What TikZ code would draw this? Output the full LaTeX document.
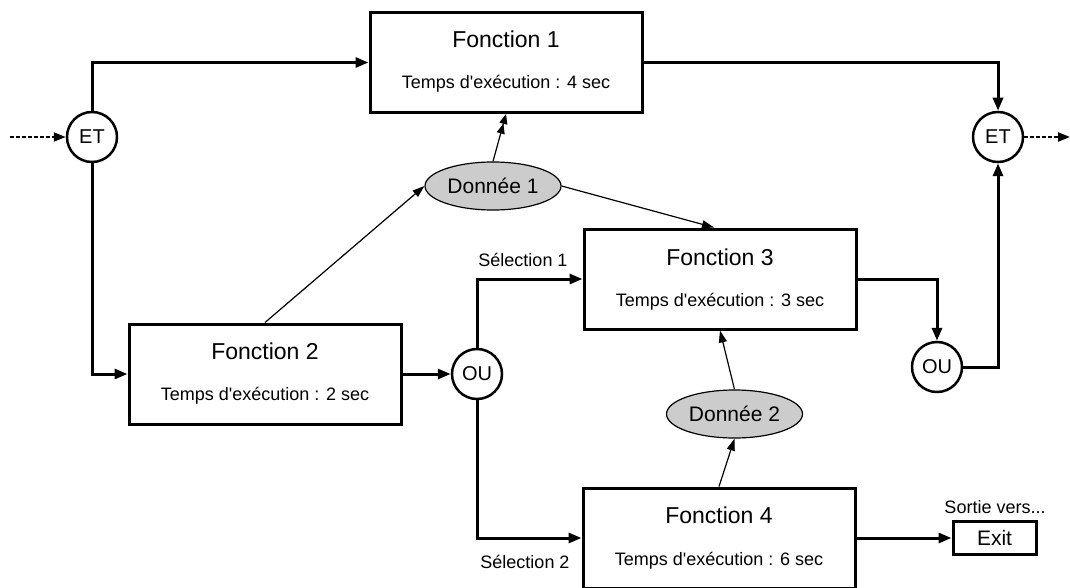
\documentclass[tikz,border=0pt]{standalone}
\usepackage{fontspec}
\setmainfont{Liberation Sans}
\usetikzlibrary{arrows.meta,shapes.geometric}
\begin{document}
\begin{tikzpicture}[x=1pt,y=-1pt,
  fbox/.style={draw,line width=3pt,minimum width=272pt,minimum height=100pt,inner sep=0pt,fill=white},
  ftitle/.style={font=\fontsize{23}{26}\selectfont,inner sep=0pt},
  ftime/.style={font=\fontsize{18}{20}\selectfont,inner sep=0pt},
  gate/.style={draw,circle,line width=2.5pt,minimum size=50pt,inner sep=0pt,fill=white,font=\fontsize{20}{22}\selectfont},
  data/.style={draw,ellipse,line width=1.2pt,fill=gray!40,minimum width=136pt,minimum height=48pt,inner sep=0pt,font=\fontsize{21}{24}\selectfont},
  flow/.style={line width=3pt,-{Triangle[length=13pt,width=10pt]}},
  link/.style={line width=1.2pt,-{Triangle[length=12pt,width=8pt]}},
  dbllink/.style={line width=1.2pt,-{Triangle[length=10pt,width=8pt]Triangle[length=10pt,width=8pt]}},
  dashflow/.style={line width=2pt,dash pattern=on 4pt off 2pt,-{Triangle[length=12pt,width=9pt]}},
  lbl/.style={font=\fontsize{18}{20}\selectfont,inner sep=0pt},
  exitbox/.style={draw,line width=3pt,minimum width=83pt,minimum height=33pt,inner sep=0pt,font=\fontsize{21}{24}\selectfont}
]
\useasboundingbox (0,0) rectangle (1070,588);

% function boxes
\node[fbox] (f1) at (506,62.5) {};
\node[ftitle] (f1a) at ([yshift=23pt]f1.center) {Fonction 1};
\node[ftime] (f1b) at ([yshift=-21pt]f1.center) {Temps d\textquotesingle exécution : 4 sec};

\node[fbox] (f2) at (265,374) {};
\node[ftitle] (f2a) at ([yshift=23pt]f2.center) {Fonction 2};
\node[ftime] (f2b) at ([yshift=-22pt]f2.center) {Temps d\textquotesingle exécution : 2 sec};

\node[fbox] (f3) at (720,279) {};
\node[ftitle] (f3a) at ([yshift=22pt]f3.center) {Fonction 3};
\node[ftime] (f3b) at ([yshift=-23pt]f3.center) {Temps d\textquotesingle exécution : 3 sec};

\node[fbox] (f4) at (719,538) {};
\node[ftitle] (f4a) at ([yshift=23pt]f4.center) {Fonction 4};
\node[ftime] (f4b) at ([yshift=-23pt]f4.center) {Temps d\textquotesingle exécution : 6 sec};

% gates
\node[gate] (et1) at (92,137) {ET};
\node[gate] (et2) at (998,137) {ET};
\node[gate] (ou1) at (477,374) {OU};
\node[gate] (ou2) at (937,367) {OU};

% data
\node[data] (d1) at (493,186) {Donnée 1};
\node[data] (d2) at (734.5,414) {Donnée 2};

% exit
\node[exitbox] (exit) at (994.5,538) {Exit};
\node[lbl] (sv) at (995,507) {Sortie vers...};

% labels
\node[lbl] (s1) at (523,260) {Sélection 1};
\node[lbl] (s2) at (525,562) {Sélection 2};

% free ends
\coordinate (inl) at (10,137);
\coordinate (outr) at (1070,137);

% connectors
\draw[dashflow] (inl) -- (et1);
\draw[dashflow] (et2) -- (outr);
\draw[flow] (et1) |- (f1);
\draw[flow] (et1) |- (f2);
\draw[flow] (f2) -- (ou1);
\draw[flow] (ou1) |- (f3);
\draw[flow] (ou1) |- (f4);
\draw[flow] (f1) -| (et2);
\draw[flow] (f3) -| (ou2);
\draw[flow] (ou2) -| (et2);
\draw[flow] (f4) -- (exit);

\draw[link] (f2.north) -- (d1.west);
\draw[dbllink] (d1.north) -- (f1.south);
\draw[link] (d1.east) -- ([xshift=-6pt]f3.north);
\draw[link] (f4.north) -- (d2.south);
\draw[link] (d2.north) -- (f3.south);
\end{tikzpicture}
\end{document}
